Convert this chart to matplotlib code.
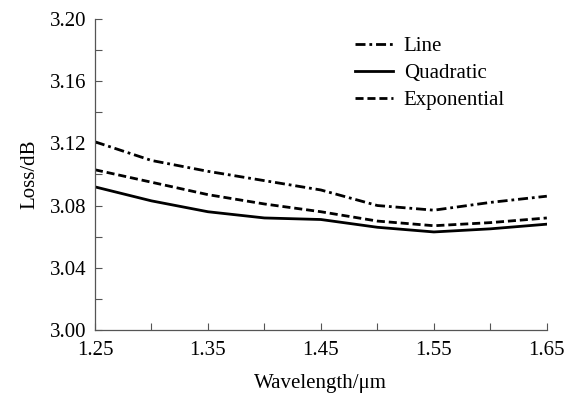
import numpy as np
import matplotlib
matplotlib.use("Agg")
import matplotlib.pyplot as plt
from matplotlib.ticker import MultipleLocator

# values
wavelength = [1.25, 1.30, 1.35, 1.40, 1.45, 1.50, 1.55, 1.60, 1.65]
loss_line = [3.121, 3.109, 3.102, 3.096, 3.090, 3.080, 3.077, 3.082, 3.086]
loss_quadratic = [3.092, 3.083, 3.076, 3.072, 3.071, 3.066, 3.063, 3.065, 3.068]
loss_exponential = [3.103, 3.095, 3.087, 3.081, 3.076, 3.070, 3.067, 3.069, 3.072]
x_ticklabels = [1.25, 1.35, 1.45, 1.55, 1.65]

plt.rcParams['font.family'] = ['Liberation Serif', 'DejaVu Serif']
plt.rcParams['font.size'] = 15

fig = plt.figure(figsize=(5.72, 3.96), dpi=100)
ax = fig.add_axes([0.166, 0.167, 0.790, 0.785])

ax.plot(wavelength, loss_line, color='black', lw=2.0, linestyle=(0, (3.6, 1.4, 1, 1.4)), label='Line')
ax.plot(wavelength, loss_quadratic, color='black', lw=2.0, label='Quadratic')
ax.plot(wavelength, loss_exponential, color='black', lw=2.0, linestyle=(0, (2.9, 1.4)), label='Exponential')

ax.set_xlim(1.25, 1.65)
ax.set_ylim(3.00, 3.20)
ax.set_xticks(x_ticklabels)
ax.set_xticklabels([f'{v:.2f}' for v in x_ticklabels])
ax.xaxis.set_minor_locator(MultipleLocator(0.05))
ax.yaxis.set_major_locator(MultipleLocator(0.04))
ax.yaxis.set_minor_locator(MultipleLocator(0.02))
ax.yaxis.set_major_formatter(plt.FormatStrFormatter('%.2f'))

for s in ['top', 'right']:
    ax.spines[s].set_visible(False)
for s in ['left', 'bottom']:
    ax.spines[s].set_color('#555555')
    ax.spines[s].set_linewidth(0.9)

ax.tick_params(which='both', direction='in', length=5, width=0.8, color='#555555')
ax.tick_params(axis='x', pad=8)
ax.tick_params(axis='y', pad=6)

ax.set_xlabel('Wavelength/μm', labelpad=10)
ax.set_ylabel('Loss/dB', labelpad=8)

ax.legend(loc='upper left', bbox_to_anchor=(0.543, 0.99), frameon=False,
          handlelength=1.85, handletextpad=0.5, labelspacing=0.35, borderaxespad=0.3)

fig.savefig('out.png', dpi=100)
